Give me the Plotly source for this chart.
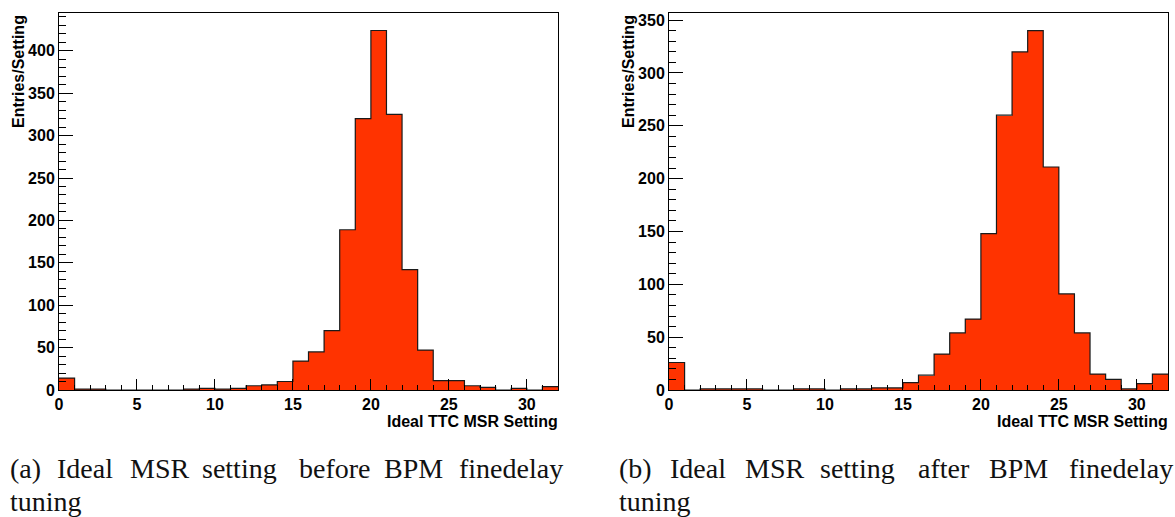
import plotly.graph_objects as go

# Histogram binning: 32 unit-wide bins of the TTC MSR setting
bin_edges = list(range(0, 33))
bin_centers = [e + 0.5 for e in range(32)]

# Entries per MSR setting before BPM finedelay tuning
entries_before = [14, 1, 1, 0, 0, 0, 0, 0, 1, 2, 1, 2, 5, 6, 10, 34,
                  45, 70, 189, 320, 424, 325, 142, 47, 11, 11, 5, 3, 0, 2, 0, 4]
# Entries per MSR setting after BPM finedelay tuning
entries_after = [26, 0, 1, 1, 1, 1, 0, 0, 1, 1, 0, 1, 1, 2, 2, 7,
                 14, 34, 54, 67, 148, 260, 320, 340, 211, 91, 54, 15, 10, 1, 6, 15]

x_tick_values = [0, 5, 10, 15, 20, 25, 30]
x_title = "Ideal TTC MSR Setting"
y_title = "Entries/Setting"
caption_a = ["(a)", "Ideal", "MSR", "setting", "before", "BPM", "finedelay"]
caption_b = ["(b)", "Ideal", "MSR", "setting", "after", "BPM", "finedelay"]
caption_tail = "tuning"

W, H = 1175, 517
FILL = "#FF3300"
LABEL_FONT = dict(family="Liberation Sans", size=16, color="black", weight="bold")
CAPTION_FONT = dict(family="Liberation Serif", size=28, color="#111111")


def px_x(v):
    return v / W


def px_y(v):
    return 1 - v / H


fig = go.Figure()

panels = [
    dict(values=entries_before, xa="x", ya="y", left=59, right=558, ymax=445),
    dict(values=entries_after, xa="x2", ya="y2", left=669, right=1168, ymax=357),
]

for p in panels:
    vals = p["values"]
    fig.add_trace(go.Bar(
        x=bin_centers, y=vals, width=1.0,
        marker=dict(color=FILL, line=dict(width=0)),
        xaxis=p["xa"], yaxis=p["ya"], showlegend=False, hoverinfo="x+y",
    ))
    # step outline of the histogram
    fig.add_trace(go.Scatter(
        x=bin_edges, y=vals + [vals[-1]], mode="lines",
        line=dict(color="#1a1a1a", width=1.2, shape="hv"),
        xaxis=p["xa"], yaxis=p["ya"], showlegend=False, hoverinfo="skip",
    ))

top_px, bottom_px = 12.7, 390

for i, p in enumerate(panels):
    sfx = "" if i == 0 else str(i + 1)
    xname, yname = "xaxis" + sfx, "yaxis" + sfx
    fig.layout[xname] = dict(
        domain=[px_x(p["left"]), px_x(p["right"])], range=[0, 32],
        anchor=p["ya"], tickmode="array", tickvals=x_tick_values,
        ticks="inside", ticklen=11, tickwidth=1, tickcolor="black",
        minor=dict(dtick=1, tick0=0, ticks="inside", ticklen=5, tickcolor="black", tickwidth=1),
        showline=True, linecolor="black", linewidth=1, mirror=True,
        showgrid=False, zeroline=False, tickfont=LABEL_FONT, fixedrange=True,
        automargin=False,
    )
    fig.layout[yname] = dict(
        domain=[px_y(bottom_px), px_y(top_px)], range=[0, p["ymax"]],
        anchor=p["xa"], dtick=50, tick0=0,
        ticks="inside", ticklen=14, tickwidth=1, tickcolor="black",
        minor=dict(dtick=10, tick0=0, ticks="inside", ticklen=7, tickcolor="black", tickwidth=1),
        showline=True, linecolor="black", linewidth=1, mirror=True,
        showgrid=False, zeroline=False, tickfont=LABEL_FONT, fixedrange=True,
        automargin=False,
    )

annotations = []
for p in panels:
    annotations.append(dict(
        text=x_title, xref="paper", yref="paper",
        x=px_x(p["right"] + 2), y=px_y(421), xanchor="right", yanchor="middle",
        showarrow=False, font=LABEL_FONT,
    ))
    annotations.append(dict(
        text=y_title, xref="paper", yref="paper", textangle=-90,
        x=px_x(p["left"] - 41), y=px_y(72), xanchor="center", yanchor="middle",
        showarrow=False, font=LABEL_FONT,
    ))

# justified caption lines below each panel
caption_starts_a = [8, 55, 128, 200, 297, 382, 457]
caption_starts_b = [617, 668, 743, 818, 916, 987, 1067]
for words, starts in ((caption_a, caption_starts_a), (caption_b, caption_starts_b)):
    for w, x0 in zip(words, starts):
        annotations.append(dict(
            text=w, xref="paper", yref="paper", x=px_x(x0), y=px_y(468),
            xanchor="left", yanchor="middle", showarrow=False, font=CAPTION_FONT,
        ))
    annotations.append(dict(
        text=caption_tail, xref="paper", yref="paper", x=px_x(starts[0]), y=px_y(501),
        xanchor="left", yanchor="middle", showarrow=False, font=CAPTION_FONT,
    ))

fig.update_layout(
    width=W, height=H, margin=dict(l=0, r=0, t=0, b=0, autoexpand=False),
    paper_bgcolor="white", plot_bgcolor="white",
    bargap=0, annotations=annotations, showlegend=False,
)

fig.write_html("out.html")
